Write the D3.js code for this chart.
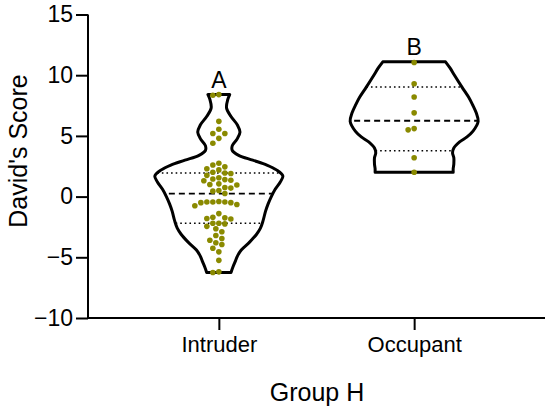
<!DOCTYPE html>
<html>
<head>
<meta charset="utf-8">
<script src="https://cdn.jsdelivr.net/npm/d3@7"></script>
<style>
  html, body { margin: 0; padding: 0; background: #ffffff; }
  svg { display: block; }
  text { font-family: "Liberation Sans", Arial, Helvetica, sans-serif; fill: #000; }
</style>
</head>
<body>
<svg id="chart" width="550" height="414"></svg>
<script>
// ---------------- data ----------------
const categories = ["Intruder", "Occupant"];
const groupLetters = ["A", "B"];
const yTicks = [-10, -5, 0, 5, 10, 15];
const yTitle = "David's Score";
const xTitle = "Group H";

const intruderScores = [
  8.4, 8.35, 6.2, 5.55, 5.2, 5.2, 4.8, 4.4,
  2.75, 2.6, 2.45, 2.3, 2.2, 2.0, 1.95, 1.9, 1.75, 1.55, 1.45, 1.4, 1.35, 1.3,
  1.05, 1.0, 0.95, 0.75, 0.7, 0.5, 0.45,
  0.25,
  -0.4, -0.45, -0.45, -0.45, -0.5, -0.5, -0.65, -0.75,
  -1.4, -1.7, -1.75, -1.8, -1.85, -2.2, -2.2, -2.25,
  -2.45, -2.65, -2.9, -3.2, -3.45, -3.6, -3.8, -3.95, -4.25, -4.55, -5.25, -6.2, -6.25
];
const occupantScores = [11.05, 9.3, 8.2, 6.9, 5.6, 5.5, 3.2, 2.0];

// violin outline: [score, relative density]
const intruderDensity = [
  [8.4, 0.17], [8.0, 0.14], [7.3, 0.12], [6.6, 0.19], [5.9, 0.29], [5.3, 0.33],
  [4.7, 0.28], [4.2, 0.21], [3.8, 0.21], [3.4, 0.31], [3.0, 0.53], [2.6, 0.75],
  [2.2, 0.90], [1.7, 1.0], [1.2, 0.96], [0.6, 0.88], [0.0, 0.82], [-0.6, 0.77],
  [-1.2, 0.73], [-2.0, 0.69], [-2.6, 0.65], [-3.1, 0.59], [-3.75, 0.48],
  [-4.4, 0.35], [-4.9, 0.29], [-5.3, 0.26], [-5.8, 0.22], [-6.25, 0.19]
];
const occupantDensity = [
  [11.1, 0.49], [10.6, 0.56], [10.0, 0.63], [9.0, 0.75], [8.2, 0.85], [7.6, 0.91],
  [6.9, 0.97], [6.2, 1.0], [5.4, 0.92], [4.9, 0.82], [4.5, 0.71], [4.0, 0.62],
  [3.6, 0.60], [3.2, 0.62], [2.7, 0.62], [2.3, 0.61], [2.0, 0.61]
];

const seriesScores = [intruderScores, occupantScores];
const seriesDensity = [intruderDensity, occupantDensity];

// ---------------- layout ----------------
const svg = d3.select("#chart");
const plotLeft = 88, plotRight = 545, plotTop = 14.5, plotBottom = 318;

const y = d3.scaleLinear().domain([-10, 15]).range([plotBottom, plotTop]);
const x = d3.scalePoint().domain(categories).range([plotLeft, plotRight]).padding(0.67);
const w = d3.scaleLinear().domain([0, 1]).range([0, 64]);

// Prism-style quantile ((n+1)p)
function quant(values, p) {
  const s = values.slice().sort((a, b) => a - b);
  const n = s.length;
  let pos = (n + 1) * p;
  if (pos <= 1) return s[0];
  if (pos >= n) return s[n - 1];
  const lo = Math.floor(pos), f = pos - lo;
  return s[lo - 1] + f * (s[lo] - s[lo - 1]);
}

const defs = svg.append("defs");

categories.forEach((cat, i) => {
  const cx = x(cat);
  const dens = seriesDensity[i];
  const scores = seriesScores[i];

  const area = d3.area()
    .y(d => y(d[0]))
    .x0(d => cx - w(d[1]))
    .x1(d => cx + w(d[1]))
    .curve(d3.curveCatmullRom.alpha(0.5));

  const pathD = area(dens);

  defs.append("clipPath").attr("id", "clip" + i)
    .append("path").attr("d", pathD);

  const g = svg.append("g");

  // quartile lines
  const q1 = quant(scores, 0.25), med = quant(scores, 0.5), q3 = quant(scores, 0.75);
  const lineG = g.append("g").attr("clip-path", "url(#clip" + i + ")");
  [q1, q3].forEach(q => {
    lineG.append("line")
      .attr("x1", cx - 80).attr("x2", cx + 80)
      .attr("y1", y(q)).attr("y2", y(q))
      .attr("stroke", "#000").attr("stroke-width", 1.6)
      .attr("stroke-dasharray", "1.6,3");
  });
  lineG.append("line")
    .attr("x1", cx - 80).attr("x2", cx + 80)
    .attr("y1", y(med)).attr("y2", y(med))
    .attr("stroke", "#000").attr("stroke-width", 1.8)
    .attr("stroke-dasharray", "6,4");

  // violin outline
  g.append("path")
    .attr("d", pathD)
    .attr("fill", "none")
    .attr("stroke", "#000")
    .attr("stroke-width", 3)
    .attr("stroke-linejoin", "round");

  // beeswarm points
  const r = 2.8, minD = 5.8;
  const placed = [];
  const sorted = scores.slice().sort((a, b) => b - a);
  const offsets = [];
  for (let k = 0; k <= 12; k++) { if (k === 0) offsets.push(0); else { offsets.push(-3 * k, 3 * k); } }
  sorted.forEach(v => {
    const py = y(v);
    let chosen = 0;
    for (const o of offsets) {
      const ok = placed.every(p => Math.hypot(p.x - o, p.y - py) >= minD);
      if (ok) { chosen = o; break; }
    }
    placed.push({ x: chosen, y: py, v });
  });
  g.selectAll("circle.pt").data(placed).enter().append("circle")
    .attr("class", "pt")
    .attr("cx", d => cx + d.x)
    .attr("cy", d => d.y)
    .attr("r", r)
    .attr("fill", "#8a8a00");

  // group letter
  svg.append("text")
    .attr("x", cx).attr("y", y(d3.max(scores)) - 7)
    .attr("text-anchor", "middle")
    .attr("font-size", 23)
    .text(groupLetters[i]);
});

// ---------------- axes ----------------
const yAxis = d3.axisLeft(y).tickValues(yTicks).tickSize(12).tickPadding(3)
  .tickFormat(d => d < 0 ? "\u2212" + Math.abs(d) : String(d));
const yg = svg.append("g").attr("transform", `translate(${plotLeft},0)`).call(yAxis);
yg.select(".domain").attr("stroke", "#000").attr("stroke-width", 2)
  .attr("d", `M0,${plotTop}V${plotBottom}`);
yg.selectAll(".tick line").attr("stroke", "#000").attr("stroke-width", 2);
yg.selectAll(".tick text").attr("font-size", 23).attr("font-family", "Liberation Sans, Arial, sans-serif");

const xAxis = d3.axisBottom(x).tickSize(12).tickPadding(6);
const xg = svg.append("g").attr("transform", `translate(0,${plotBottom})`).call(xAxis);
xg.select(".domain").attr("stroke", "#000").attr("stroke-width", 2)
  .attr("d", `M${plotLeft - 1},0H${plotRight}`);
xg.selectAll(".tick line").attr("stroke", "#000").attr("stroke-width", 2);
xg.selectAll(".tick text").attr("font-size", 22).attr("font-family", "Liberation Sans, Arial, sans-serif");

// titles
svg.append("text")
  .attr("transform", `translate(27,151) rotate(-90)`)
  .attr("text-anchor", "middle")
  .attr("font-size", 25)
  .text(yTitle);

svg.append("text")
  .attr("x", 317).attr("y", 401)
  .attr("text-anchor", "middle")
  .attr("font-size", 25)
  .text(xTitle);
</script>
</body>
</html>
